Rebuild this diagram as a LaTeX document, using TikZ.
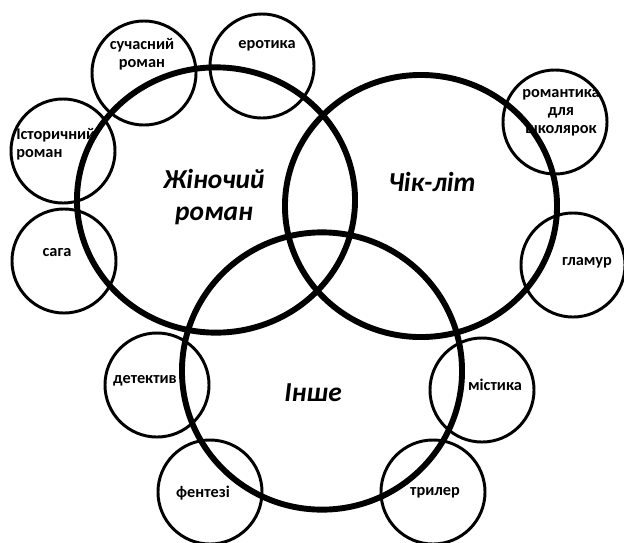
\documentclass[tikz,border=0pt]{standalone}
\usepackage{fontspec}
\setmainfont{Carlito}
\usetikzlibrary{shapes.geometric}
\tikzset{
  big/.style={ellipse,draw,line width=4.2pt,inner sep=0pt},
  sml/.style={circle,draw,line width=2.1pt,minimum size=2.6cm,inner sep=0pt},
  lbl/.style={font=\bfseries\fontsize{11.6}{12.8}\selectfont,align=center,inner sep=0pt},
  ttl/.style={font=\bfseries\itshape\fontsize{19.5}{23.4}\selectfont,align=center,inner sep=0pt},
}

\begin{document}
\begin{tikzpicture}[x=0.025cm,y=-0.025cm]
  \useasboundingbox (0,0) rectangle (624,542);
  % three main groups
  \node[big,minimum width=6.95cm,minimum height=6.63cm] (zhin) at (216,200) {};
  \node[big,minimum width=6.8cm,minimum height=6.55cm] (chik) at (421,206) {};
  \node[big,minimum width=7cm,minimum height=6.93cm] (inshe) at (322,371) {};
  \node[ttl] (tzhin) at (214,197) {Жіночий\\роман};
  \node[ttl] (tchik) at (432,182) {Чік-літ};
  \node[ttl] (tinshe) at (313,393) {Інше};
  % small genres
  \foreach \n/\x/\y in {suchas/144/73, erot/262/66, istor/63/151, saga/64/261,
      roshk/555/122, glam/573/265, detek/157/385, mist/482/390,
      fent/210/492, tril/433/492}
    \node[sml] (\n) at (\x,\y) {};
  \node[lbl] (tsuchas) at (142,54) {сучасний\\роман};
  \node[lbl] (terot) at (267,46) {еротика};
  \node[lbl,anchor=west,align=left] (tistor) at (16,144) {Історичний\\роман};
  \node[lbl] (tsaga) at (57,253) {сага};
  \node[lbl] (troshk) at (561,113) {романтика\\для\\школярок};
  \node[lbl] (tglam) at (587,263) {гламур};
  \node[lbl] (tdetek) at (145,381) {детектив};
  \node[lbl] (tmist) at (495,385) {містика};
  \node[lbl] (tfent) at (203,493) {фентезі};
  \node[lbl] (ttril) at (435,493) {трилер};
\end{tikzpicture}
\end{document}
